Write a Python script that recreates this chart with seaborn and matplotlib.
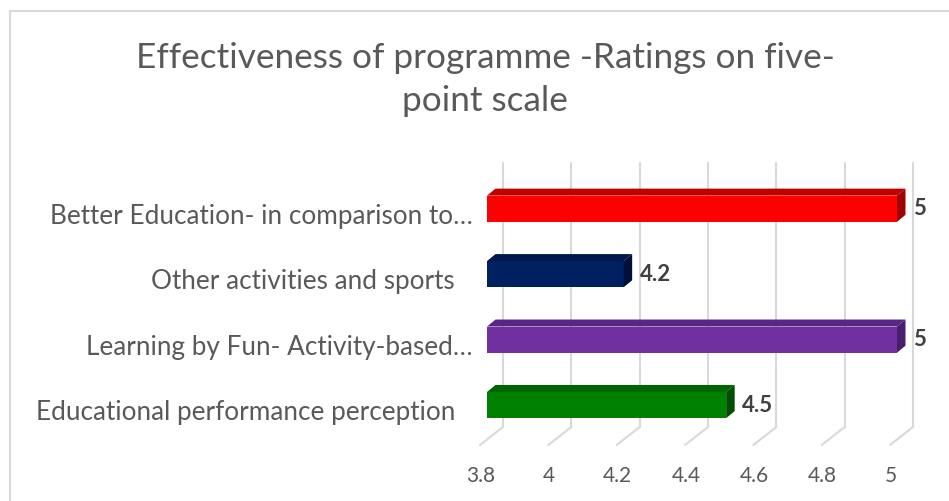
import matplotlib
matplotlib.use("Agg")
import matplotlib.pyplot as plt
import matplotlib.transforms as mtransforms
from matplotlib.patches import Polygon, Rectangle
import seaborn as sns
import pandas as pd

# ---- data ----
categories = [
    "Better Education- in comparison to\u2026",
    "Other activities and sports",
    "Learning by Fun- Activity-based\u2026",
    "Educational performance perception",
]
ratings = [5.0, 4.2, 5.0, 4.5]
front_colors = ["#FF0000", "#002060", "#7030A0", "#008000"]
top_colors = ["#C00000", "#00184A", "#5B2585", "#006400"]
side_colors = ["#A00000", "#001038", "#4A1E6D", "#004E00"]
xticks = [3.8, 4.0, 4.2, 4.4, 4.6, 4.8, 5.0]
xticklabels = ["3.8", "4", "4.2", "4.4", "4.6", "4.8", "5"]
title_lines = ["Effectiveness of programme -Ratings on five-", "point scale"]

df = pd.DataFrame({"category": categories, "rating": ratings})

sns.set_theme(style="white")
plt.rcParams["font.family"] = ["Lato", "DejaVu Sans"]

W, H = 949, 501
fig = plt.figure(figsize=(W / 100, H / 100), dpi=100)

# front plane of the 3-D box, in pixel terms
left_px, right_px, top_px, bot_px = 487, 897, 176, 440
ax = fig.add_axes([left_px / W, 1 - bot_px / H, (right_px - left_px) / W, (bot_px - top_px) / H])

sns.barplot(data=df, x="rating", y="category", hue="category", palette=front_colors,
            width=0.4, saturation=1, legend=False, orient="h", ax=ax, zorder=3,
            edgecolor="none")
ax.set_xlim(3.8, 5.0)
ax.set_ylim(3.534, -0.5)

for s in ax.spines.values():
    s.set_visible(False)
ax.set_xlabel("")
ax.set_ylabel("")

# ticks
ax.set_xticks(xticks)
ax.set_xticklabels(xticklabels)
ax.tick_params(axis="x", length=0, pad=19, labelsize=15, labelcolor="#595959")
ax.tick_params(axis="y", length=0, pad=23, labelsize=18.8, labelcolor="#595959")
shift = mtransforms.ScaledTranslation(-6 / 100, 0, fig.dpi_scale_trans)
for lab in ax.get_xticklabels():
    lab.set_transform(lab.get_transform() + shift)
for lab in ax.get_yticklabels():
    dxl = 18 if lab.get_text().endswith("\u2026") else 0
    lab.set_transform(lab.get_transform() +
                      mtransforms.ScaledTranslation(dxl / 100, -5 / 100, fig.dpi_scale_trans))

# back wall gridlines and floor lines
grid_c = "#D9D9D9"
blend = mtransforms.blended_transform_factory(ax.transData, ax.transAxes)
back = blend + mtransforms.ScaledTranslation(16 / 100, 13 / 100, fig.dpi_scale_trans)
for v in xticks:
    ax.plot([v, v], [0, 1], transform=back, color=grid_c, lw=1.5, clip_on=False, zorder=0)
    p0 = back.transform((v, 0))
    p1 = blend.transform((v, 0)) + [-7, -5]
    fig.lines.append(plt.Line2D([p0[0] / W, p1[0] / W], [p0[1] / H, p1[1] / H],
                                transform=fig.transFigure, color=grid_c, lw=1.5))

# 3-D faces for each bar
fig.canvas.draw()
dx, dy = 8.5, 7.0
xmin = ax.get_xlim()[0]
for i, patch in enumerate(ax.patches):
    x0, y0 = patch.get_x(), patch.get_y()
    w, h = patch.get_width(), patch.get_height()
    xa, xb = max(x0, xmin), x0 + w
    (pa, qa), (pb, qb) = ax.transData.transform([(xa, y0), (xb, y0 + h)])
    ytop, ybot = max(qa, qb), min(qa, qb)
    top = [(pa, ytop), (pb, ytop), (pb + dx, ytop + dy), (pa + dx, ytop + dy)]
    side = [(pb, ytop), (pb + dx, ytop + dy), (pb + dx, ybot + dy), (pb, ybot)]
    for pts, c in ((top, top_colors[i]), (side, side_colors[i])):
        fpts = [(px / W, py / H) for px, py in pts]
        fig.patches.append(Polygon(fpts, closed=True, transform=fig.transFigure,
                                   facecolor=c, edgecolor="none", zorder=3))

# data labels
for cont in ax.containers:
    ax.bar_label(cont, fmt="%g", padding=11.5, fontsize=16, fontweight="bold",
                 color="#404040")

# title (two lines, as wrapped in the original)
for txt, base in zip(title_lines, (68, 111)):
    fig.text(485 / W, 1 - base / H, txt, ha="center", va="baseline", fontsize=25.3,
             color="#595959")

# chart border
fig.patches.append(Rectangle((10 / W, -0.1), 1.2, 1.1 - 11 / H, transform=fig.transFigure,
                             facecolor="none", edgecolor="#D9D9D9", lw=1.5))

fig.savefig("out.png", dpi=100)
